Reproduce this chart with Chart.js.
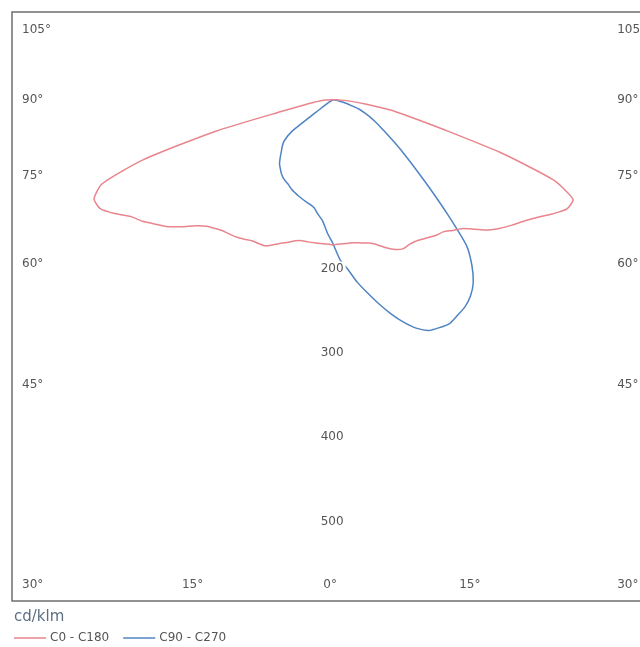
<!DOCTYPE html>
<html>
<head>
<meta charset="utf-8">
<title>Light distribution</title>
<script src="https://cdn.jsdelivr.net/npm/chart.js@4"></script>
<style>
  html, body { margin: 0; padding: 0; background: #fff; }
  canvas { display: block; }
</style>
</head>
<body>
<canvas id="polarChart" width="640" height="647"></canvas>
<script>
// angle from nadir in degrees, negative = left half of the plane
const angles = [
    -90, -87.5, -85, -82.5, -80, -77.5, -75, -72.5, -70, -67.5,
    -65, -62.5, -60, -57.5, -55, -52.5, -50, -47.5, -45, -42.5,
    -40, -37.5, -35, -32.5, -30, -27.5, -25, -22.5, -20, -17.5,
    -15, -12.5, -10, -7.5, -5, -2.5, 0, 2.5, 5, 7.5,
    10, 12.5, 15, 17.5, 20, 22.5, 25, 27.5, 30, 32.5,
    35, 37.5, 40, 42.5, 45, 47.5, 50, 52.5, 55, 57.5,
    60, 62.5, 65, 67.5, 70, 72.5, 75, 77.5, 80, 82.5,
    85, 87.5, 90
];

// cd/klm
const c0c180 = [
    0, 8, 16, 24, 34, 60, 145, 236, 292, 307,
    305, 292, 277, 268, 257, 247, 234, 221, 212, 207,
    203, 201, 199, 196, 193, 192, 191, 186, 181, 177,
    173, 171, 171, 171, 171, 171, 172, 171, 171, 171,
    172, 174, 176, 181, 187, 192, 195, 194, 194, 196,
    199, 202, 204, 210, 216, 227, 240, 250, 259, 268,
    279, 293, 306, 308, 278, 208, 135, 94, 68, 40,
    22, 10, 0
];

const c90c270 = [
    0, 0, 0, 0, 0, 0, 0, 0, 0, 0,
    1, 2, 4, 8, 18, 62, 76, 82, 87, 93,
    99, 103, 107, 110, 112, 114, 117, 119, 121, 123,
    125, 127, 130, 137, 144, 158, 171, 190, 202, 218,
    232, 247, 262, 276, 288, 296, 298, 299, 295, 291,
    284, 273, 256, 234, 192, 156, 128, 107, 90, 76,
    65, 56, 48, 40, 33, 22, 14, 8, 4, 2,
    1, 0, 0
];

const seriesNames = ['C0 - C180', 'C90 - C270'];
const seriesColors = ['#e8858d', '#4f84c4'];
const sideTicks = [105, 90, 75, 60, 45, 30];
const bottomTicks = [15, 0];
const radialTicks = [200, 300, 400, 500];
const unitLabel = 'cd/klm';

function toPoints(values) {
    return values.map((v, i) => {
        const a = angles[i] * Math.PI / 180;
        return { x: v * Math.sin(a), y: -v * Math.cos(a) };
    });
}

const polarFrame = {
    id: 'polarFrame',
    afterDatasetsDraw(chart) {
        const { ctx, chartArea, scales } = chart;
        const cx = scales.x.getPixelForValue(0);
        const cy = scales.y.getPixelForValue(0);
        const rad = Math.PI / 180;
        ctx.save();

        ctx.strokeStyle = '#6e6e6e';
        ctx.lineWidth = 1.5;
        ctx.strokeRect(chartArea.left, chartArea.top, chartArea.width + 20, chartArea.height);

        ctx.font = '12px "DejaVu Sans"';
        ctx.fillStyle = '#555';
        ctx.textBaseline = 'middle';

        // angle labels where the rays meet an inner box
        const half = 285;
        const top = chartArea.top + 18;
        const bottom = chartArea.bottom - 16;
        sideTicks.forEach(t => {
            const y = Math.min(bottom, Math.max(top, cy + half * Math.tan((90 - t) * rad)));
            ctx.textAlign = 'left';
            ctx.fillText(t + '°', chartArea.left + 10, y);
            ctx.fillText(t + '°', cx + half - 1, y);
        });
        bottomTicks.forEach(t => {
            const dx = (bottom - cy) * Math.tan(t * rad);
            if (t === 0) {
                ctx.textAlign = 'center';
                ctx.fillText('0°', cx - 3, bottom);
                return;
            }
            ctx.textAlign = 'right';
            ctx.fillText(t + '°', cx - dx, bottom);
            ctx.textAlign = 'left';
            ctx.fillText(t + '°', cx + dx - 4, bottom);
        });

        // intensity labels down the nadir axis
        ctx.textAlign = 'center';
        radialTicks.forEach(v => {
            const y = scales.y.getPixelForValue(-v);
            const w = ctx.measureText(String(v)).width;
            ctx.fillStyle = '#fff';
            ctx.fillRect(cx - 1 - w / 2 - 2, y - 7, w + 4, 14);
            ctx.fillStyle = '#555';
            ctx.fillText(String(v), cx - 1, y);
        });

        // unit and legend
        const lx = chartArea.left + 2;
        ctx.textAlign = 'left';
        ctx.font = '15px "DejaVu Sans"';
        ctx.fillStyle = '#5d7082';
        ctx.fillText(unitLabel, lx, chartArea.bottom + 16);

        ctx.font = '12px "DejaVu Sans"';
        let x = lx;
        const ly = chartArea.bottom + 37;
        seriesNames.forEach((name, i) => {
            ctx.strokeStyle = seriesColors[i];
            ctx.lineWidth = 1.5;
            ctx.beginPath();
            ctx.moveTo(x, ly);
            ctx.lineTo(x + 32, ly);
            ctx.stroke();
            ctx.fillStyle = '#555';
            ctx.fillText(name, x + 36, ly);
            x += 36 + ctx.measureText(name).width + 14;
        });
        ctx.restore();
    }
};

new Chart(document.getElementById('polarChart'), {
    type: 'scatter',
    data: {
        datasets: [
            {
                label: seriesNames[0],
                data: toPoints(c0c180),
                showLine: true,
                borderColor: seriesColors[0],
                borderWidth: 1.5,
                pointRadius: 0,
                tension: 0.2
            },
            {
                label: seriesNames[1],
                data: toPoints(c90c270),
                showLine: true,
                borderColor: seriesColors[1],
                borderWidth: 1.5,
                pointRadius: 0,
                tension: 0.2
            }
        ]
    },
    options: {
        responsive: false,
        animation: false,
        layout: { padding: { left: 12, top: 12, right: 0, bottom: 46 } },
        scales: {
            x: { type: 'linear', display: false, min: -381, max: 364 },
            y: { type: 'linear', display: false, min: -594, max: 104 }
        },
        plugins: {
            legend: { display: false },
            tooltip: { enabled: false }
        }
    },
    plugins: [polarFrame]
});
</script>
</body>
</html>
